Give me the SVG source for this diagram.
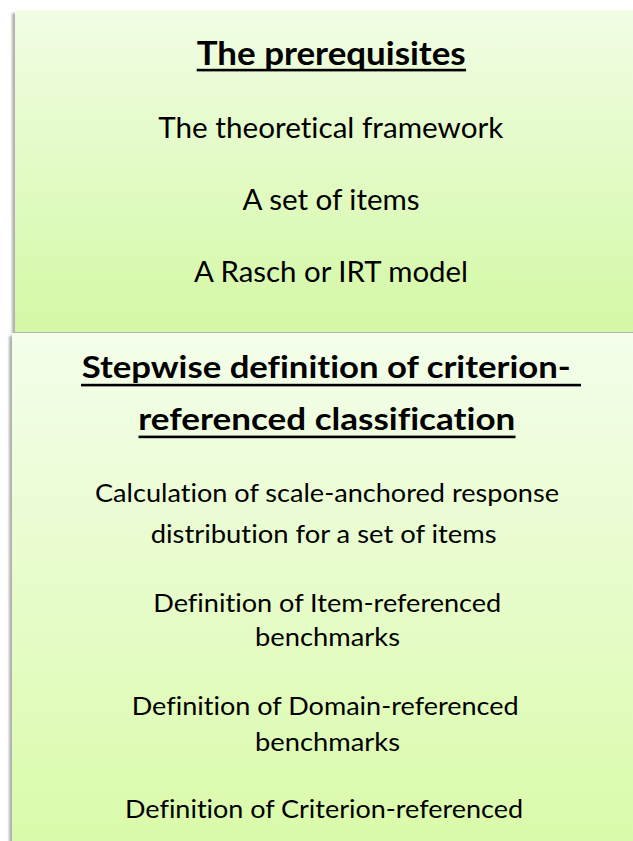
<svg xmlns="http://www.w3.org/2000/svg" width="633" height="841" viewBox="0 0 633 841">
  <defs>
    <linearGradient id="g1" x1="0" y1="0" x2="0" y2="1">
      <stop offset="0" stop-color="#F1FDE4"/>
      <stop offset="1" stop-color="#D3F8A5"/>
    </linearGradient>
    <linearGradient id="g2" x1="0" y1="0" x2="0" y2="1">
      <stop offset="0" stop-color="#F4FEEB"/>
      <stop offset="1" stop-color="#D8FAA6"/>
    </linearGradient>
    <filter id="sh" x="-5%" y="-5%" width="110%" height="110%">
      <feDropShadow dx="-3" dy="3" stdDeviation="1.3" flood-color="#000" flood-opacity="0.3"/>
    </filter>
  </defs>
  <style>
    .t { font-family: Lato, "Liberation Sans", sans-serif; fill: #000; font-variant-ligatures: none; font-feature-settings: "liga" 0, "dlig" 0, "clig" 0; }
    .h { font-weight: bold; }
    .ul { fill: #000; }
  </style>
  <rect width="633" height="841" fill="#FFFFFF"/>
  <g id="prerequisites">
    <rect x="15" y="10" width="640" height="322" fill="url(#g1)" filter="url(#sh)"/>
    <text class="t h" x="196.7" y="65" font-size="32" textLength="269" lengthAdjust="spacingAndGlyphs">The prerequisites</text>
    <rect class="ul" x="196.7" y="68.8" width="269.3" height="2.6"/>
    <text class="t" x="158.3" y="138" font-size="28" textLength="345" lengthAdjust="spacingAndGlyphs">The theoretical framework</text>
    <text class="t" x="242.6" y="210" font-size="28" textLength="177" lengthAdjust="spacingAndGlyphs">A set of items</text>
    <text class="t" x="194" y="282" font-size="28" textLength="274" lengthAdjust="spacingAndGlyphs">A Rasch or IRT model</text>
  </g>
  <g id="stepwise">
    <rect x="12" y="333" width="640" height="540" fill="url(#g2)" filter="url(#sh)"/>
    <text class="t h" x="81.7" y="378" font-size="30" textLength="489" lengthAdjust="spacingAndGlyphs">Stepwise definition of criterion-</text>
    <rect class="ul" x="81" y="383.8" width="500" height="2.6"/>
    <text class="t h" x="138.3" y="430" font-size="30" textLength="377" lengthAdjust="spacingAndGlyphs">referenced classification</text>
    <rect class="ul" x="138.5" y="435.6" width="377" height="2.6"/>
    <text class="t" x="95" y="502" font-size="25" textLength="464" lengthAdjust="spacingAndGlyphs">Calculation of scale-anchored response</text>
    <text class="t" x="150.7" y="543" font-size="25" textLength="346" lengthAdjust="spacingAndGlyphs">distribution for a set of items</text>
    <text class="t" x="153.3" y="612" font-size="25" textLength="348" lengthAdjust="spacingAndGlyphs">Definition of Item-referenced</text>
    <text class="t" x="255" y="646" font-size="25" textLength="145" lengthAdjust="spacingAndGlyphs">benchmarks</text>
    <text class="t" x="131.7" y="715" font-size="25" textLength="387" lengthAdjust="spacingAndGlyphs">Definition of Domain-referenced</text>
    <text class="t" x="255" y="751" font-size="25" textLength="145" lengthAdjust="spacingAndGlyphs">benchmarks</text>
    <text class="t" x="125" y="818" font-size="25" textLength="398" lengthAdjust="spacingAndGlyphs">Definition of Criterion-referenced</text>
  </g>
  <g id="connectors"/>
</svg>
